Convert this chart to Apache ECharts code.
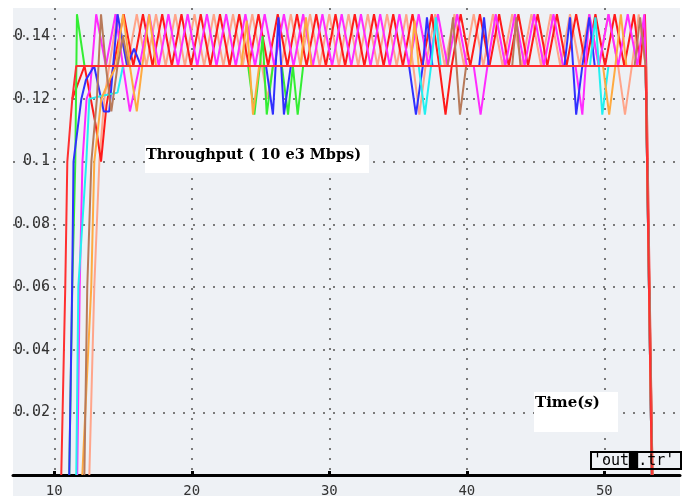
<!DOCTYPE html>
<html>
<head>
<meta charset="utf-8">
<script src="https://cdn.jsdelivr.net/npm/echarts/dist/echarts.min.js"></script>
<style>html,body{margin:0;padding:0;background:#fff}#c{width:687px;height:496px}</style>
</head>
<body>
<div id="c"></div>
<script>
// ---- data (time in s, throughput in 10e3 Mbps) ----
const xTickValues = [10, 20, 30, 40, 50];
const yTickValues = [0.02, 0.04, 0.06, 0.08, 0.1, 0.12, 0.14];

const greenData = [[11.09,0],[11.31,0.06],[11.53,0.1],[11.65,0.147],[12.2,0.1305],[24.1,0.1305],[24.55,0.115],[24.95,0.1305],[25.15,0.14],[25.45,0.115],[25.9,0.1305],[26.55,0.1305],[27.0,0.115],[27.35,0.1305],[27.7,0.115],[28.1,0.1305],[53.0,0.1305],[53.45,0]];

const blueData = [[11.09,0],[11.3,0.06],[11.4,0.1],[11.97,0.12],[12.3,0.126],[12.9,0.1305],[13.6,0.116],[14.0,0.116],[14.6,0.147],[15.3,0.1305],[15.8,0.136],[16.3,0.1305],[25.4,0.1305],[25.9,0.115],[26.3,0.146],[26.7,0.115],[27.2,0.1305],[35.8,0.1305],[36.3,0.115],[36.8,0.1305],[37.1,0.146],[37.5,0.1305],[40.9,0.1305],[41.25,0.146],[41.6,0.1305],[47.1,0.1305],[47.5,0.146],[47.95,0.115],[48.4,0.1305],[48.9,0.146],[49.3,0.1305],[53.0,0.1305],[53.45,0]];

const cyanData = [[11.6,0],[11.75,0.06],[12.33,0.1],[12.55,0.12],[13.5,0.121],[14.6,0.122],[15.0,0.1305],[36.5,0.1305],[36.95,0.115],[37.4,0.1305],[37.75,0.146],[38.1,0.1305],[48.95,0.1305],[49.35,0.146],[49.85,0.115],[50.3,0.1305],[53.0,0.1305],[53.45,0]];

const orangeData = [[12.04,0],[12.69,0.06],[12.91,0.1],[13.42,0.12],[13.9,0.125],[14.5,0.1305],[15.0,0.147],[15.5,0.1305],[16.0,0.116],[16.4,0.1305],[16.9,0.147],[17.4,0.1305],[23.6,0.1305],[24.0,0.145],[24.45,0.115],[24.9,0.1305],[27.9,0.1305],[28.3,0.146],[28.7,0.1305],[35.9,0.1305],[36.2,0.145],[36.5,0.1305],[49.9,0.1305],[50.35,0.115],[50.8,0.1305],[51.2,0.147],[51.6,0.1305],[53.0,0.1305],[53.45,0]];

const brownData = [[12.19,0],[12.4,0.06],[12.7,0.1],[13.1,0.12],[13.4,0.147],[13.75,0.1305],[14.15,0.116],[14.6,0.1305],[15.0,0.14],[15.4,0.1305],[38.6,0.1305],[39.0,0.146],[39.5,0.115],[39.95,0.1305],[43.3,0.1305],[43.6,0.146],[43.9,0.1305],[52.2,0.1305],[52.6,0.146],[53.0,0.1305],[53.5,0]];

const redFlatData = [[10.51,0],[10.8,0.06],[10.95,0.1],[11.31,0.12],[11.6,0.1305],[53.0,0.1305],[53.45,0]];

const salmonData = [[12.55,0],[12.91,0.06],[13.28,0.1],[13.64,0.12],[14.0,0.1305],[14.6,0.147],[15.3,0.1305],[16.0,0.147],[16.7,0.1305],[17.4,0.147],[18.1,0.1305],[18.8,0.147],[19.5,0.1305],[20.2,0.147],[20.9,0.1305],[21.6,0.147],[22.3,0.1305],[23.0,0.147],[23.7,0.1305],[24.4,0.147],[25.1,0.1305],[25.5,0.12],[25.9,0.1305],[26.5,0.1305],[27.2,0.147],[27.9,0.1305],[28.6,0.147],[29.3,0.1305],[30.0,0.147],[30.7,0.1305],[31.4,0.147],[32.1,0.1305],[32.8,0.147],[33.5,0.1305],[34.2,0.147],[34.9,0.1305],[35.6,0.147],[36.1,0.1305],[36.55,0.115],[37.0,0.1305],[37.7,0.147],[38.4,0.1305],[39.1,0.147],[39.8,0.1305],[40.5,0.147],[41.2,0.1305],[41.9,0.147],[42.6,0.1305],[43.3,0.147],[44.0,0.1305],[44.7,0.147],[45.4,0.1305],[46.1,0.147],[46.8,0.1305],[47.5,0.147],[48.2,0.1305],[48.9,0.147],[49.6,0.1305],[50.3,0.147],[51.0,0.1305],[51.5,0.115],[52.0,0.1305],[52.5,0.147],[53.0,0.1305],[53.5,0]];

const redOscData = [[11.31,0.12],[12.2,0.1305],[13.0,0.112],[13.4,0.1],[13.8,0.118],[14.3,0.1305],[15.05,0.147],[15.75,0.1305],[16.45,0.147],[17.15,0.1305],[17.85,0.147],[18.55,0.1305],[19.25,0.147],[19.95,0.1305],[20.65,0.147],[21.35,0.1305],[22.05,0.147],[22.75,0.1305],[23.45,0.147],[24.15,0.1305],[24.85,0.147],[25.55,0.1305],[26.25,0.147],[26.95,0.1305],[27.65,0.147],[28.35,0.1305],[29.05,0.147],[29.75,0.1305],[30.45,0.147],[31.15,0.1305],[31.85,0.147],[32.55,0.1305],[33.25,0.147],[33.95,0.1305],[34.65,0.147],[35.35,0.1305],[36.05,0.147],[36.75,0.1305],[37.45,0.147],[38.0,0.1305],[38.45,0.115],[38.9,0.1305],[39.55,0.147],[40.25,0.1305],[40.95,0.147],[41.65,0.1305],[42.35,0.147],[43.05,0.1305],[43.75,0.147],[44.45,0.1305],[45.15,0.147],[45.85,0.1305],[46.55,0.147],[47.25,0.1305],[47.95,0.147],[48.65,0.1305],[49.35,0.147],[50.05,0.1305],[50.75,0.147],[51.45,0.1305],[52.15,0.147],[52.6,0.1305],[52.95,0.147],[53.05,0.13],[53.5,0]];

const magentaData = [[11.67,0],[11.85,0.06],[12.05,0.1],[12.35,0.12],[12.6,0.123],[13.05,0.147],[13.75,0.1305],[14.45,0.147],[15.0,0.1305],[15.5,0.116],[16.2,0.1305],[16.9,0.147],[17.6,0.1305],[18.3,0.147],[19.0,0.1305],[19.7,0.147],[20.4,0.1305],[21.1,0.147],[21.8,0.1305],[22.5,0.147],[23.2,0.1305],[23.9,0.147],[24.6,0.1305],[25.3,0.147],[26.0,0.1305],[26.7,0.147],[27.4,0.1305],[28.1,0.147],[28.8,0.1305],[29.5,0.147],[30.2,0.1305],[30.9,0.147],[31.6,0.1305],[32.3,0.147],[33.0,0.1305],[33.7,0.147],[34.4,0.1305],[35.1,0.147],[35.8,0.1305],[36.5,0.147],[37.2,0.1305],[37.9,0.147],[38.6,0.1305],[39.3,0.147],[40.0,0.1305],[40.5,0.1305],[41.0,0.115],[41.5,0.1305],[42.1,0.147],[42.8,0.1305],[43.5,0.147],[44.2,0.1305],[44.9,0.147],[45.6,0.1305],[46.3,0.147],[47.0,0.1305],[47.9,0.1305],[48.4,0.115],[48.9,0.147],[49.6,0.1305],[50.3,0.147],[51.0,0.1305],[51.7,0.147],[52.4,0.1305],[52.9,0.147],[53.0,0.1305],[53.45,0]];

const seriesList = [
  { name: 'salmon',  color: '#ffa58a', data: salmonData },
  { name: 'redOsc',  color: '#ff1a1a', data: redOscData },
  { name: 'magenta', color: '#ff2bff', data: magentaData },
  { name: 'green',   color: '#33ee33', data: greenData },
  { name: 'blue',    color: '#3030ff', data: blueData },
  { name: 'cyan',    color: '#22f0f0', data: cyanData },
  { name: 'orange',  color: '#ffaa40', data: orangeData },
  { name: 'brown',   color: '#b87a5a', data: brownData },
  { name: 'redFlat', color: '#ff3030', data: redFlatData }
];

const chart = echarts.init(document.getElementById('c'), null, { renderer: 'canvas' });
const dotted = { color: '#7a7a7a', type: [2, 8], width: 2 };
chart.setOption({
  animation: false,
  backgroundColor: '#ffffff',
  grid: { left: 13, right: 7, top: 8, bottom: 21, outerBoundsMode: 'none', containLabel: false },
  xAxis: {
    type: 'value', min: 7, max: 55.5, splitNumber: 5,
    axisLine: { lineStyle: { color: '#000', width: 3 } },
    axisTick: { inside: true, length: 4, customValues: xTickValues, lineStyle: { color: '#000', width: 3 } },
    axisLabel: { margin: 9, color: '#333', fontFamily: 'DejaVu Sans Mono', fontSize: 14, customValues: xTickValues },
    splitLine: { show: true, lineStyle: dotted }
  },
  yAxis: {
    type: 'value', min: 0, max: 0.149, interval: 0.02,
    axisLine: { show: false },
    axisTick: { show: false, customValues: yTickValues },
    axisLabel: { inside: true, margin: 37, align: 'right', color: '#333', fontFamily: 'DejaVu Sans Mono', fontSize: 15, customValues: yTickValues },
    splitLine: { show: true, lineStyle: dotted }
  },
  graphic: [
    { type: 'rect', z: -10, silent: true, shape: { x: 13, y: 8, width: 667, height: 488 }, style: { fill: '#eef1f5' } },
    { type: 'rect', z: 10, silent: true, shape: { x: 145, y: 145, width: 224, height: 28 }, style: { fill: '#ffffff' } },
    { type: 'text', z: 11, silent: true, x: 146, y: 148, style: { text: 'Throughput ( 10 e3 Mbps)', font: 'bold 14.5px "DejaVu Serif"', fill: '#000', verticalAlign: 'top' } },
    { type: 'rect', z: 10, silent: true, shape: { x: 534, y: 392, width: 84, height: 40 }, style: { fill: '#ffffff' } },
    { type: 'text', z: 11, silent: true, x: 535, y: 396, style: { text: '{b|Time(}{i|s}{b|)}', verticalAlign: 'top', rich: { b: { font: 'bold 15px "DejaVu Serif"', fill: '#000' }, i: { font: 'italic bold 15px "DejaVu Serif"', fill: '#000' } } } },
    { type: 'rect', z: 10, silent: true, shape: { x: 591, y: 452, width: 90, height: 17 }, style: { fill: 'none', stroke: '#000', lineWidth: 2 } },
    { type: 'text', z: 11, silent: true, x: 593, y: 461, style: { text: "'out\u2588.tr'", font: '15px "DejaVu Sans Mono"', fill: '#000', verticalAlign: 'middle' } }
  ],
  series: seriesList.map(s => ({
    name: s.name, type: 'line', data: s.data, showSymbol: false, symbol: 'none',
    lineStyle: { color: s.color, width: 2 }, itemStyle: { color: s.color }, clip: true
  }))
});
</script>
</body>
</html>
